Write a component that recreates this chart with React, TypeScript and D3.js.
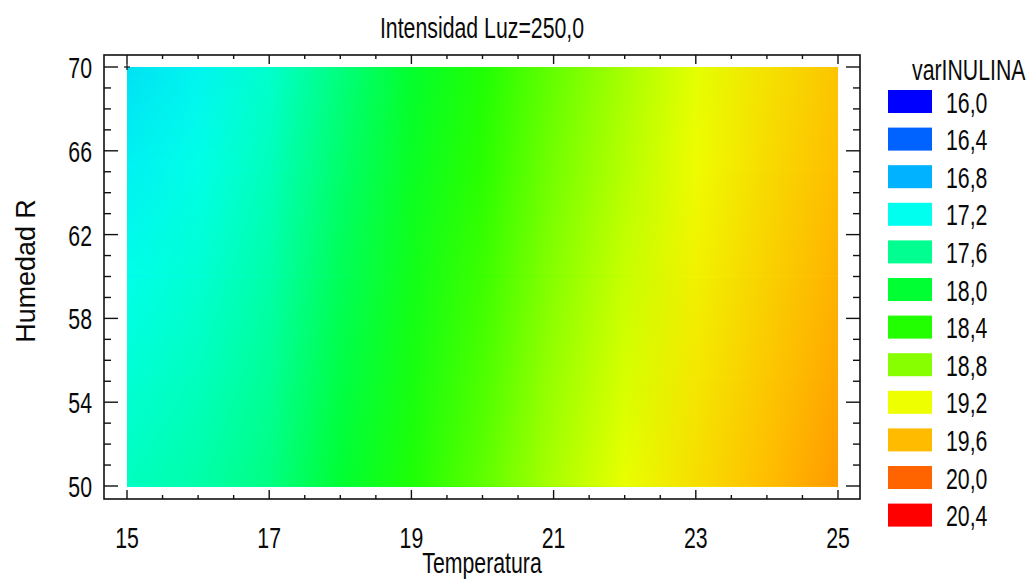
import React from 'react';
import * as d3 from 'd3';

const TITLE = 'Intensidad Luz=250,0';
const X_LABEL = 'Temperatura';
const Y_LABEL = 'Humedad R';
const LEGEND_TITLE = 'varINULINA';

// Grid of read values (Temperatura x Humedad R)
const temperatures = [15, 16, 17, 18, 19, 20, 21, 22, 23, 24, 25];
const humidities = [70, 65, 60, 55, 50];
const inulinaH70 = [17.05, 17.15, 17.34, 17.68, 18.04, 18.36, 18.66, 18.92, 19.16, 19.37, 19.54];
const inulinaH65 = [17.13, 17.23, 17.42, 17.76, 18.12, 18.43, 18.73, 18.98, 19.22, 19.42, 19.59];
const inulinaH60 = [17.22, 17.32, 17.5, 17.84, 18.2, 18.5, 18.8, 19.05, 19.28, 19.47, 19.64];
const inulinaH55 = [17.31, 17.41, 17.58, 17.92, 18.27, 18.57, 18.87, 19.11, 19.34, 19.53, 19.69];
const inulinaH50 = [17.4, 17.5, 17.66, 18.0, 18.35, 18.64, 18.94, 19.18, 19.4, 19.59, 19.75];
const inulinaRows = [inulinaH70, inulinaH65, inulinaH60, inulinaH55, inulinaH50];

const legendLevels = [16.0, 16.4, 16.8, 17.2, 17.6, 18.0, 18.4, 18.8, 19.2, 19.6, 20.0, 20.4];
const legendLabels = ['16,0', '16,4', '16,8', '17,2', '17,6', '18,0', '18,4', '18,8', '19,2', '19,6', '20,0', '20,4'];
const legendColors = ['#0000FF', '#0062FF', '#00B2FF', '#00FFEE', '#00FF90', '#00FF33', '#22FF00', '#88FF00', '#EEFF00', '#FFBB00', '#FF6400', '#FF0000'];

const xTicks = [15, 17, 19, 21, 23, 25];
const xTickLabels = ['15', '17', '19', '21', '23', '25'];
const yTicks = [50, 54, 58, 62, 66, 70];
const yTickLabels = ['50', '54', '58', '62', '66', '70'];
const designPoints = [{ t: 15, h: 70 }];

const FONT = "'Liberation Sans', Arial, sans-serif";
const SX = 0.71;
const FS = 30;

function SText(props: { x: number; y: number; anchor?: string; size?: number; sx?: number; rotate?: number; children: React.ReactNode }) {
  const { x, y, anchor = 'start', size = FS, sx = SX, rotate, children } = props;
  const tr = `translate(${x},${y})${rotate ? ` rotate(${rotate})` : ''} scale(${sx},1)`;
  return (
    <g transform={tr}>
      <text textAnchor={anchor as any} fontSize={size} fontFamily={FONT} fill="#0a0a0a">
        {children}
      </text>
    </g>
  );
}

export default function App() {
  const W = 1029;
  const H = 580;
  const frame = { x0: 104, x1: 860, y0: 55, y1: 499 };
  const x = d3.scaleLinear().domain([15, 25]).range([127, 838]);
  const y = d3.scaleLinear().domain([50, 70]).range([486, 67]);
  const color = d3
    .scaleLinear<string>()
    .domain(legendLevels)
    .range(legendColors)
    .interpolate(d3.interpolateRgb)
    .clamp(true);

  const xMinor = d3.range(15, 25.001, 0.5).filter((v) => !xTicks.includes(v));
  const yMinor = d3.range(50, 70.001, 1).filter((v) => !yTicks.includes(v));

  const legendX = 888;
  const legendY0 = 101.5;
  const legendStep = 37.6;

  const pairs = humidities.slice(0, -1).map((h, i) => ({ i, top: h, bot: humidities[i + 1] }));

  return (
    <svg width={W} height={H} style={{ position: 'absolute', left: 0, top: 0, background: '#fff' }}>
      <rect x={0} y={0} width={W} height={H} fill="#fff" />
      <defs>
        {inulinaRows.map((row, i) => (
          <linearGradient key={i} id={`band${i}`} gradientUnits="userSpaceOnUse" x1={x(15)} x2={x(25)} y1={0} y2={0}>
            {temperatures.map((t, j) => (
              <stop key={j} offset={(x(t) - x(15)) / (x(25) - x(15))} stopColor={color(row[j])} />
            ))}
          </linearGradient>
        ))}
        {pairs.map((p) => (
          <linearGradient key={`v${p.i}`} id={`vfade${p.i}`} gradientUnits="userSpaceOnUse" x1={0} x2={0} y1={y(p.top)} y2={y(p.bot)}>
            <stop offset={0} stopColor="#000" />
            <stop offset={1} stopColor="#fff" />
          </linearGradient>
        ))}
        {pairs.map((p) => (
          <mask key={`m${p.i}`} id={`mask${p.i}`} maskUnits="userSpaceOnUse" x={0} y={0} width={W} height={H}>
            <rect x={x(15)} y={y(p.top)} width={x(25) - x(15)} height={y(p.bot) - y(p.top)} fill={`url(#vfade${p.i})`} />
          </mask>
        ))}
      </defs>

      {/* heatmap */}
      <g shapeRendering="crispEdges">
        {pairs.map((p) => (
          <g key={p.i}>
            <rect
              x={x(15)}
              y={y(p.top)}
              width={x(25) - x(15)}
              height={y(p.bot) - y(p.top) + 0.6}
              fill={`url(#band${p.i})`}
            />
            <rect
              x={x(15)}
              y={y(p.top)}
              width={x(25) - x(15)}
              height={y(p.bot) - y(p.top)}
              fill={`url(#band${p.i + 1})`}
              mask={`url(#mask${p.i})`}
            />
          </g>
        ))}
      </g>

      {/* frame */}
      <rect x={frame.x0} y={frame.y0} width={frame.x1 - frame.x0} height={frame.y1 - frame.y0} fill="none" stroke="#111" strokeWidth={1.6} />

      {/* ticks */}
      <g stroke="#111" strokeWidth={1.4}>
        {yTicks.map((v) => (
          <g key={`ym${v}`}>
            <line x1={frame.x0} x2={frame.x0 + 14} y1={y(v)} y2={y(v)} />
            <line x1={frame.x1} x2={frame.x1 - 14} y1={y(v)} y2={y(v)} />
          </g>
        ))}
        {yMinor.map((v) => (
          <g key={`yn${v}`}>
            <line x1={frame.x0} x2={frame.x0 + 7} y1={y(v)} y2={y(v)} />
            <line x1={frame.x1} x2={frame.x1 - 7} y1={y(v)} y2={y(v)} />
          </g>
        ))}
        {xTicks.map((v) => (
          <g key={`xm${v}`}>
            <line x1={x(v)} x2={x(v)} y1={frame.y1} y2={frame.y1 - 9} />
            <line x1={x(v)} x2={x(v)} y1={frame.y0} y2={frame.y0 + 9} />
          </g>
        ))}
        {xMinor.map((v) => (
          <g key={`xn${v}`}>
            <line x1={x(v)} x2={x(v)} y1={frame.y1} y2={frame.y1 - 4} />
            <line x1={x(v)} x2={x(v)} y1={frame.y0} y2={frame.y0 + 4} />
          </g>
        ))}
      </g>

      {/* design points */}
      <g stroke="#111" strokeWidth={1.2}>
        {designPoints.map((p, i) => (
          <g key={i}>
            <line x1={x(p.t) - 3} x2={x(p.t) + 3} y1={y(p.h)} y2={y(p.h)} />
            <line x1={x(p.t)} x2={x(p.t)} y1={y(p.h) - 3} y2={y(p.h) + 3} />
          </g>
        ))}
      </g>

      {/* tick labels */}
      {yTicks.map((v, i) => (
        <SText key={`yl${v}`} x={92} y={y(v) + 11} anchor="end">
          {yTickLabels[i]}
        </SText>
      ))}
      {xTicks.map((v, i) => (
        <SText key={`xl${v}`} x={x(v)} y={548} anchor="middle">
          {xTickLabels[i]}
        </SText>
      ))}

      {/* titles */}
      <SText x={482} y={38} anchor="middle">{TITLE}</SText>
      <SText x={482} y={573} anchor="middle">{X_LABEL}</SText>
      <SText x={35} y={271} anchor="middle" size={28} sx={0.96} rotate={-90}>{Y_LABEL}</SText>

      {/* legend */}
      <SText x={912} y={80}>{LEGEND_TITLE}</SText>
      {legendLevels.map((lv, i) => (
        <g key={`lg${i}`}>
          <rect x={legendX} y={legendY0 + i * legendStep - 11.5} width={44} height={23} fill={color(lv)} />
          <SText x={946} y={legendY0 + i * legendStep + 11}>{legendLabels[i]}</SText>
        </g>
      ))}
    </svg>
  );
}
